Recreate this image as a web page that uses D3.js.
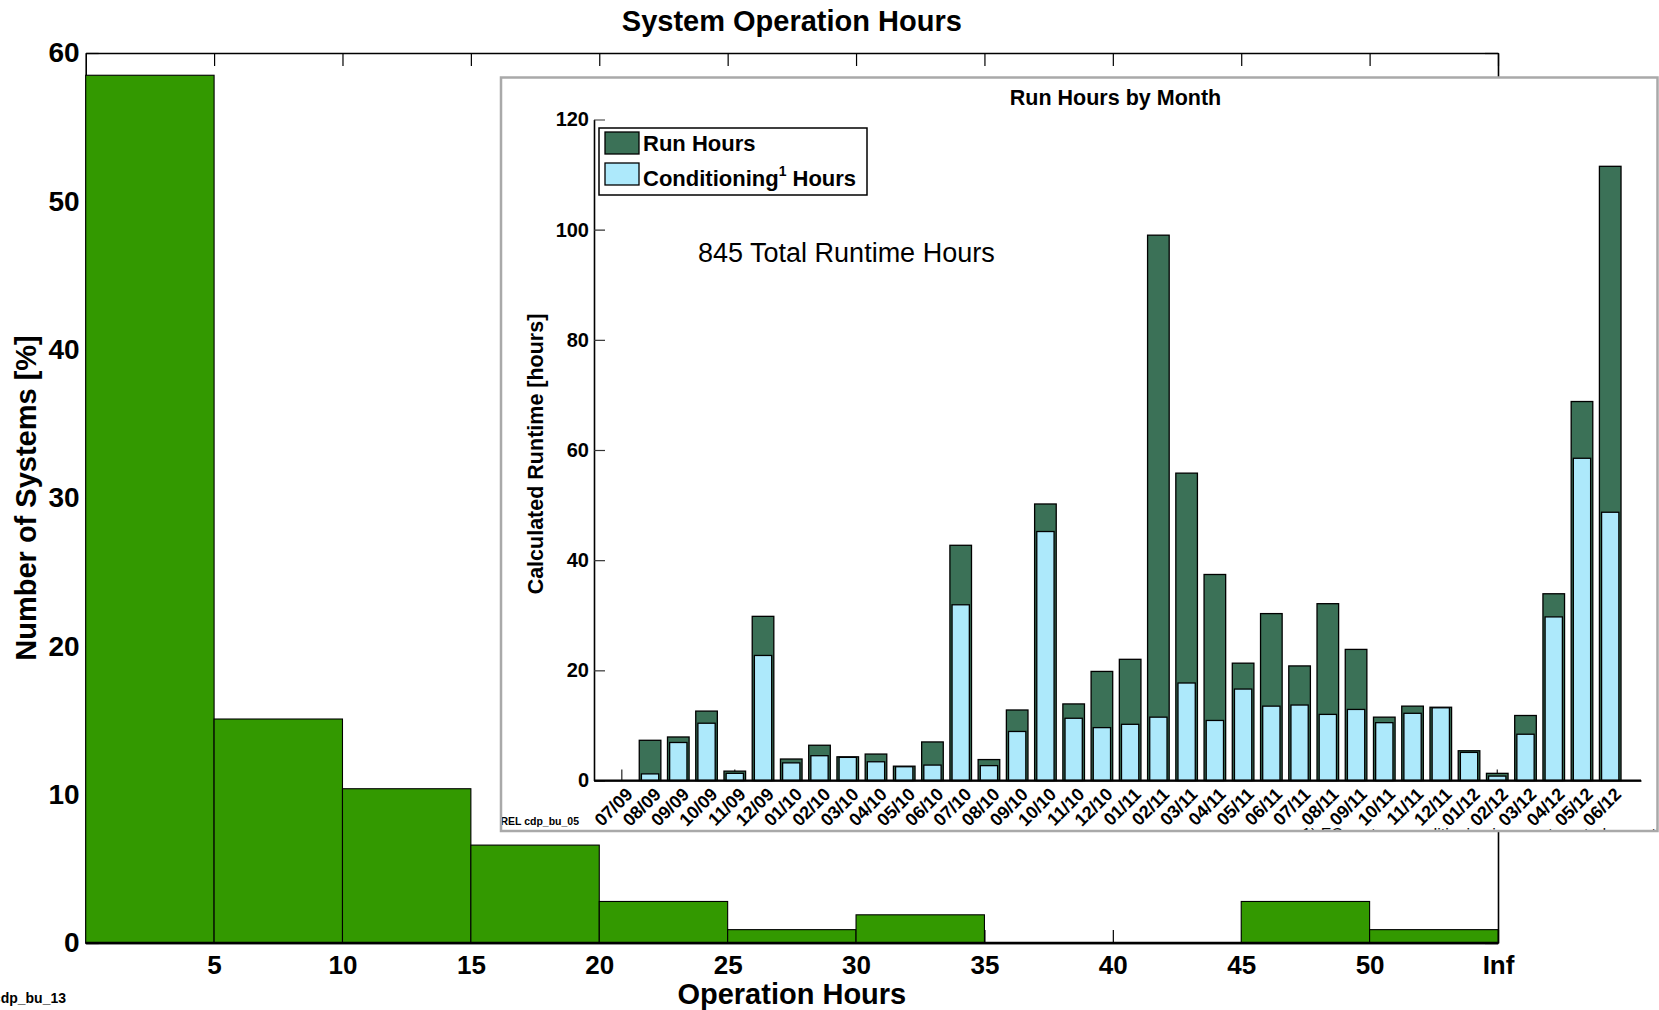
<!DOCTYPE html>
<html>
<head>
<meta charset="utf-8">
<script src="https://cdn.jsdelivr.net/npm/d3@7"></script>
<style>
  body { margin: 0; background: #fff; }
  svg { display: block; font-family: "Liberation Sans", Arial, Helvetica, sans-serif; }
</style>
</head>
<body>
<svg id="chart" width="1659" height="1010"></svg>
<script>
// main histogram: share of systems per 5 h bin (last bin is 50..Inf)
const binStarts = [0, 5, 10, 15, 20, 25, 30, 35, 40, 45, 50];
const systemsPct = [58.5, 15.1, 10.4, 6.6, 2.8, 0.9, 1.9, 0, 0, 2.8, 0.9];
const hoursTicks = [5, 10, 15, 20, 25, 30, 35, 40, 45, 50, 55];
const hoursTickLabels = ['5', '10', '15', '20', '25', '30', '35', '40', '45', '50', 'Inf'];
const pctTicks = [0, 10, 20, 30, 40, 50, 60];

// inset: run hours by month
const months = ['07/09', '08/09', '09/09', '10/09', '11/09', '12/09',
  '01/10', '02/10', '03/10', '04/10', '05/10', '06/10', '07/10', '08/10', '09/10', '10/10', '11/10', '12/10',
  '01/11', '02/11', '03/11', '04/11', '05/11', '06/11', '07/11', '08/11', '09/11', '10/11', '11/11', '12/11',
  '01/12', '02/12', '03/12', '04/12', '05/12', '06/12'];
const runHours = [0, 7.3, 7.9, 12.6, 1.7, 29.8,
  3.9, 6.4, 4.3, 4.8, 2.6, 7.0, 42.7, 3.8, 12.8, 50.2, 13.9, 19.8,
  22.0, 99.0, 55.8, 37.4, 21.3, 30.3, 20.8, 32.1, 23.8, 11.5, 13.5, 13.3,
  5.4, 1.3, 11.8, 33.9, 68.8, 111.5];
const condHours = [0, 1.2, 6.9, 10.4, 1.3, 22.7,
  3.2, 4.5, 4.2, 3.4, 2.5, 2.8, 31.9, 2.7, 8.9, 45.2, 11.3, 9.6,
  10.2, 11.5, 17.7, 10.9, 16.6, 13.5, 13.7, 12.0, 12.9, 10.5, 12.2, 13.2,
  5.1, 0.8, 8.4, 29.7, 58.5, 48.7];
const runTicks = [0, 20, 40, 60, 80, 100, 120];

const W = 1659, H = 1010;
const main = { left: 85.7, right: 1498, top: 53, bottom: 943 };
const inset = { x0: 501, y0: 77.5, x1: 1657.5, y1: 831, left: 594, right: 1641, top: 119.5, bottom: 780.5 };

const svg = d3.select('#chart');
svg.append('rect').attr('width', W).attr('height', H).attr('fill', '#fff');

function styleAxis(g, size, tickColor) {
  g.attr('font-family', null).attr('font-size', null);
  g.selectAll('text').attr('font-size', size).attr('font-weight', 'bold').attr('fill', '#000');
  g.selectAll('.tick line').attr('stroke', tickColor || '#000').attr('stroke-width', 1.2);
  g.select('.domain').attr('stroke', '#000').attr('stroke-width', 1.6);
}

// ---------- main chart ----------
const x = d3.scaleLinear().domain([0, 55]).range([main.left, main.right]);
const y = d3.scaleLinear().domain([0, 60]).range([main.bottom, main.top]);

svg.append('g').attr('transform', `translate(0,${main.top})`)
  .call(d3.axisTop(x).tickValues(hoursTicks).tickFormat('').tickSizeInner(-13).tickSizeOuter(0))
  .call(styleAxis, 26);
svg.append('g').attr('transform', `translate(${main.right},0)`)
  .call(d3.axisRight(y).tickValues(pctTicks).tickFormat('').tickSizeInner(-13).tickSizeOuter(0))
  .call(styleAxis, 28);
svg.append('g').attr('transform', `translate(${main.left},0)`)
  .call(d3.axisLeft(y).tickValues(pctTicks).tickSizeInner(-13).tickSizeOuter(0).tickPadding(6))
  .call(styleAxis, 28);
svg.append('g').attr('transform', `translate(0,${main.bottom})`)
  .call(d3.axisBottom(x).tickValues(hoursTicks).tickFormat((d, i) => hoursTickLabels[i])
    .tickSizeInner(-13).tickSizeOuter(0).tickPadding(13))
  .call(styleAxis, 26);

const bins = binStarts.map((s, i) => ({ s: s, e: i + 1 < binStarts.length ? binStarts[i + 1] : x.domain()[1], v: systemsPct[i] }));
svg.append('g').selectAll('rect').data(bins).join('rect')
  .attr('x', d => x(d.s))
  .attr('y', d => y(d.v))
  .attr('width', d => x(d.e) - x(d.s))
  .attr('height', d => y(0) - y(d.v))
  .attr('fill', '#339900')
  .attr('stroke', '#000')
  .attr('stroke-width', 1.1);

svg.append('line')
  .attr('x1', main.left).attr('x2', main.right)
  .attr('y1', y(0)).attr('y2', y(0))
  .attr('stroke', '#000').attr('stroke-width', 2.4);

svg.append('text').attr('x', (main.left + main.right) / 2).attr('y', 30.5)
  .attr('text-anchor', 'middle').attr('font-size', 29).attr('font-weight', 'bold')
  .text('System Operation Hours');
svg.append('text').attr('x', (main.left + main.right) / 2).attr('y', 1004)
  .attr('text-anchor', 'middle').attr('font-size', 29).attr('font-weight', 'bold')
  .text('Operation Hours');
svg.append('text').attr('transform', `translate(36,${(main.top + main.bottom) / 2}) rotate(-90)`)
  .attr('text-anchor', 'middle').attr('font-size', 29).attr('font-weight', 'bold')
  .text('Number of Systems [%]');
svg.append('text').attr('x', 66).attr('y', 1003)
  .attr('text-anchor', 'end').attr('font-size', 14).attr('font-weight', 'bold')
  .text('NREL cdp_bu_13');

// ---------- inset ----------
const gi = svg.append('g');
gi.append('rect')
  .attr('x', inset.x0).attr('y', inset.y0)
  .attr('width', inset.x1 - inset.x0).attr('height', inset.y1 - inset.y0)
  .attr('fill', '#fff');
svg.append('clipPath').attr('id', 'insetClip').append('rect')
  .attr('x', inset.x0).attr('y', inset.y0)
  .attr('width', inset.x1 - inset.x0).attr('height', inset.y1 - inset.y0);
const gc = gi.append('g').attr('clip-path', 'url(#insetClip)');

const xb = d3.scaleBand().domain(months).range([inset.left, inset.right])
  .paddingInner(0.235).paddingOuter(0.655).align(0.46);
const yi = d3.scaleLinear().domain([0, 120]).range([inset.bottom, inset.top]);

gc.append('g').attr('transform', `translate(${inset.left},0)`)
  .call(d3.axisLeft(yi).tickValues(runTicks).tickSizeInner(-11).tickSizeOuter(0).tickPadding(5))
  .call(styleAxis, 20, '#333');

const xAxisIn = gc.append('g').attr('transform', `translate(0,${inset.bottom})`)
  .call(d3.axisBottom(xb).tickSizeInner(-11).tickSizeOuter(0))
  .call(styleAxis, 18, '#222');
xAxisIn.selectAll('.tick text')
  .attr('x', 0).attr('y', 0).attr('dy', 0)
  .attr('text-anchor', 'end')
  .attr('transform', 'translate(12,15) rotate(-45)');

const bw = xb.bandwidth();
const lw = bw * 0.8;
gc.append('g').selectAll('rect').data(months).join('rect')
  .attr('x', d => xb(d))
  .attr('y', (d, i) => yi(runHours[i]))
  .attr('width', bw)
  .attr('height', (d, i) => yi(0) - yi(runHours[i]))
  .attr('fill', '#3b7157')
  .attr('stroke', '#000')
  .attr('stroke-width', 1.3);
gc.append('g').selectAll('rect').data(months).join('rect')
  .attr('x', d => xb(d) + (bw - lw) / 2)
  .attr('y', (d, i) => yi(condHours[i]))
  .attr('width', lw)
  .attr('height', (d, i) => yi(0) - yi(condHours[i]))
  .attr('fill', '#ade9fb')
  .attr('stroke', '#000')
  .attr('stroke-width', 1.3);
gc.append('line')
  .attr('x1', inset.left).attr('x2', inset.right)
  .attr('y1', yi(0)).attr('y2', yi(0))
  .attr('stroke', '#000').attr('stroke-width', 2);

gc.append('text').attr('x', 1115.5).attr('y', 105)
  .attr('text-anchor', 'middle').attr('font-size', 21.5).attr('font-weight', 'bold')
  .text('Run Hours by Month');
gc.append('text').attr('transform', `translate(543,454) rotate(-90)`)
  .attr('text-anchor', 'middle').attr('font-size', 21.5).attr('font-weight', 'bold')
  .text('Calculated Runtime [hours]');
gc.append('text').attr('x', 698).attr('y', 262)
  .attr('font-size', 27)
  .text('845 Total Runtime Hours');
gc.append('text').attr('x', 579).attr('y', 825)
  .attr('text-anchor', 'end').attr('font-size', 10.5).attr('font-weight', 'bold')
  .text('NREL cdp_bu_05');
gc.append('text').attr('x', 1302).attr('y', 840)
  .attr('font-size', 16)
  .text('1) EC system conditioning is an automated operation');

// legend
const lg = gc.append('g').attr('transform', 'translate(599,128)');
lg.append('rect').attr('width', 268).attr('height', 67)
  .attr('fill', '#fff').attr('stroke', '#000').attr('stroke-width', 1.5);
const legendItems = [
  { fill: '#3b7157', y: 4 },
  { fill: '#ade9fb', y: 35 }
];
lg.selectAll('rect.sw').data(legendItems).join('rect').attr('class', 'sw')
  .attr('x', 6).attr('y', d => d.y).attr('width', 34).attr('height', 22)
  .attr('fill', d => d.fill).attr('stroke', '#000').attr('stroke-width', 1.3);
lg.append('text').attr('x', 44).attr('y', 23)
  .attr('font-size', 22).attr('font-weight', 'bold').text('Run Hours');
const t2 = lg.append('text').attr('x', 44).attr('y', 58)
  .attr('font-size', 22).attr('font-weight', 'bold');
t2.append('tspan').text('Conditioning');
t2.append('tspan').attr('dy', -10).attr('font-size', 14).text('1');
t2.append('tspan').attr('dy', 10).text(' Hours');

gi.append('rect')
  .attr('x', inset.x0).attr('y', inset.y0)
  .attr('width', inset.x1 - inset.x0).attr('height', inset.y1 - inset.y0)
  .attr('fill', 'none').attr('stroke', '#a9a9a9').attr('stroke-width', 2.5);
</script>
</body>
</html>
